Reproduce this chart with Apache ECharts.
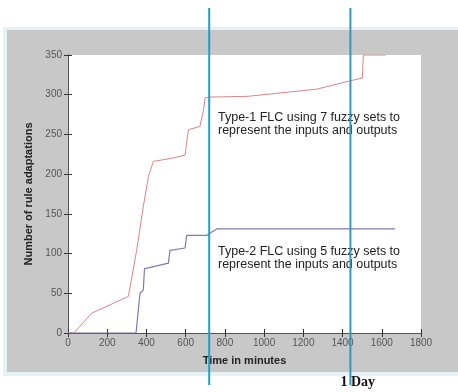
<!DOCTYPE html>
<html>
<head>
<meta charset="utf-8">
<script src="https://cdn.jsdelivr.net/npm/echarts@6/dist/echarts.min.js"></script>
<style>
  html, body { margin: 0; padding: 0; background: #fff; }
  #chart { width: 458px; height: 392px; }
</style>
</head>
<body>
<div id="chart"></div>
<script>
// Type-1 FLC (7 fuzzy sets)
const type1Minutes = [0, 30, 121, 308, 350, 384, 410, 435, 529, 597, 605, 614, 673, 690, 699, 720, 918, 1269, 1430, 1501, 1506, 1540, 1620]
const type1Values = [0, 0, 25, 46, 104, 159, 197, 216, 220, 224, 240, 256, 260, 280, 296, 297, 298, 307, 317, 321, 350, 350, 350]
// Type-2 FLC (5 fuzzy sets)
const type2Minutes = [0, 347, 367, 384, 390, 410, 512, 520, 597, 605, 707, 758, 1668]
const type2Values = [0, 0, 50, 54, 81, 82, 88, 104, 107, 123, 123, 131, 131]

const xTicks = { min: 0, max: 1800, interval: 200 }
const yTicks = { min: 0, max: 350, interval: 50 }
const markerMinutes = [720, 1440]

const pairs = (xs, ys) => xs.map((x, i) => [x, ys[i]])

const chart = echarts.init(document.getElementById('chart'))

const tickLabel = { color: '#555', fontSize: 10, fontFamily: 'Liberation Sans', formatter: v => String(v) }
const inTick = { show: true, inside: true, length: 4, lineStyle: { color: '#333' } }
const backdrop = [
  { type: 'rect', z: -20, shape: { x: 3, y: 27, width: 460, height: 349 }, style: { fill: '#e6f3f6' } },
  { type: 'rect', z: -19, shape: { x: 7, y: 30, width: 460, height: 342 }, style: { fill: '#c8c8c8' } }
]

chart.setOption({
  animation: false,
  backgroundColor: '#fff',
  graphic: backdrop,
  grid: { left: 68, top: 55, right: 37, bottom: 59, show: true, backgroundColor: '#fff', borderWidth: 0 },
  xAxis: [
    {
      type: 'value', ...xTicks,
      name: 'Time in minutes', nameLocation: 'middle', nameGap: 22,
      nameTextStyle: { color: '#222', fontSize: 11, fontWeight: 'bold', fontFamily: 'Liberation Sans' },
      axisLine: { show: true, lineStyle: { color: '#333' } },
      axisTick: inTick,
      axisLabel: { ...tickLabel, margin: 5 },
      splitLine: { show: false }
    },
    {
      type: 'value', ...xTicks, position: 'top',
      axisLine: { show: true, lineStyle: { color: '#555' } },
      axisTick: inTick, axisLabel: { show: false }, splitLine: { show: false }
    }
  ],
  yAxis: [
    {
      type: 'value', ...yTicks,
      name: 'Number of rule adaptations', nameLocation: 'middle', nameGap: 32,
      nameTextStyle: { color: '#222', fontSize: 11, fontWeight: 'bold', fontFamily: 'Liberation Sans' },
      axisLine: { show: true, lineStyle: { color: '#333' } },
      axisTick: inTick,
      axisLabel: { ...tickLabel, margin: 6 },
      splitLine: { show: false }
    },
    {
      type: 'value', ...yTicks, position: 'right',
      axisLine: { show: true, lineStyle: { color: '#555' } },
      axisTick: inTick, axisLabel: { show: false }, splitLine: { show: false }
    }
  ],
  series: [
    {
      name: 'Type-1 FLC', type: 'line', showSymbol: false,
      data: pairs(type1Minutes, type1Values),
      lineStyle: { color: '#dc8486', width: 1 }
    },
    {
      name: 'Type-2 FLC', type: 'line', showSymbol: false,
      data: pairs(type2Minutes, type2Values),
      lineStyle: { color: '#7c7cae', width: 1.2 }
    }
  ]
})

const px = markerMinutes.map(m => chart.convertToPixel({ xAxisIndex: 0 }, m))
const textStyle = { fill: '#222', fontSize: 12.5, fontFamily: 'Liberation Sans', lineHeight: 13 }
chart.setOption({
  graphic: [
    ...backdrop,
    { type: 'text', z: 50, left: 218, top: 111, style: { ...textStyle, text: 'Type-1 FLC using 7 fuzzy sets to\nrepresent the inputs and outputs' } },
    { type: 'text', z: 50, left: 218, top: 245, style: { ...textStyle, text: 'Type-2 FLC using 5 fuzzy sets to\nrepresent the inputs and outputs' } },
    ...px.map(x => ({ type: 'line', z: 100, shape: { x1: x, y1: 8, x2: x, y2: 385 }, style: { stroke: '#2a9cc0', lineWidth: 2 } })),
    { type: 'text', z: 100, left: px[1] - 10, top: 375, style: { text: '1 Day', fill: '#111', fontSize: 14, fontWeight: 'bold', fontFamily: 'Liberation Serif' } }
  ]
})
</script>
</body>
</html>
